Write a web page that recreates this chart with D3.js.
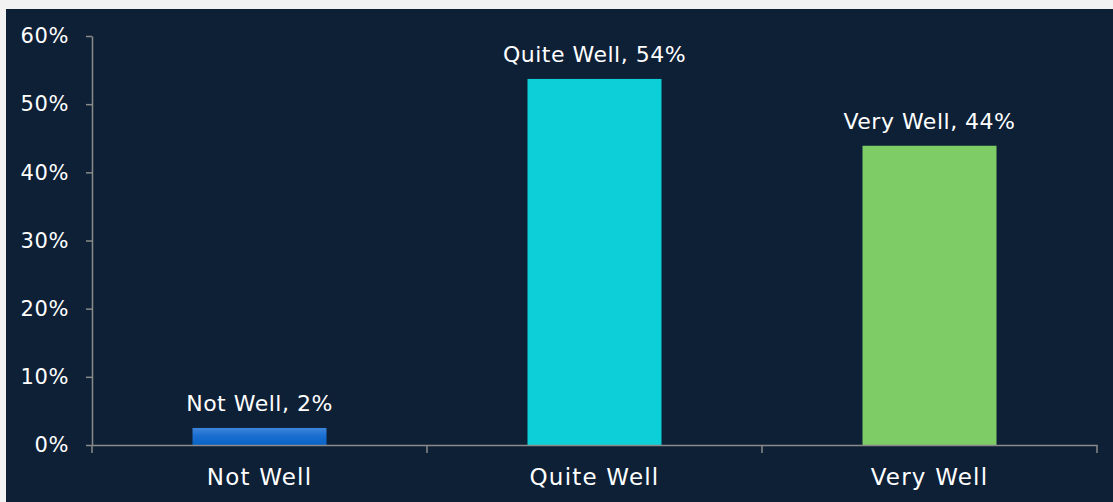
<!DOCTYPE html>
<html>
<head>
<meta charset="utf-8">
<script src="https://cdn.jsdelivr.net/npm/d3@7"></script>
<style>
  html, body { margin:0; padding:0; background:#f2f2f2; }
  svg { display:block; }
</style>
</head>
<body>
<div id="chart"></div>
<script>
const width = 1113
const height = 502
const margin = { top:36, bottom:57, left:92, right:16 }

// data
const categories = ["Not Well", "Quite Well", "Very Well"]
const values = [2.5, 53.7, 43.9]
const valueLabels = ["2%", "54%", "44%"]
const yTicks = [0, 10, 20, 30, 40, 50, 60]

const barColors = ["url(#notWellGrad)", "#0dcfd8", "#7dcc65"]
const fontFamily = "'DejaVu Sans', sans-serif"

let svg = d3.select("#chart").append("svg")
    .attr("width", width)
    .attr("height", height)

// panel
svg.append("rect")
    .attr("x", 0).attr("y", 0)
    .attr("width", width).attr("height", height)
    .attr("fill", "#f2f2f2")
svg.append("rect")
    .attr("x", 6).attr("y", 9)
    .attr("width", width - 6).attr("height", height - 9)
    .attr("fill", "#0e2036")

let defs = svg.append("defs")
let grad = defs.append("linearGradient")
    .attr("id", "notWellGrad")
    .attr("x1", 0).attr("y1", 0).attr("x2", 0).attr("y2", 1)
grad.append("stop").attr("offset", "0%").attr("stop-color", "#3f86dc")
grad.append("stop").attr("offset", "45%").attr("stop-color", "#1a6fd0")
grad.append("stop").attr("offset", "100%").attr("stop-color", "#0863c7")

let y = d3.scaleLinear()
    .domain([0, 60])
    .range([height - margin.bottom, margin.top])

let x = d3.scaleBand()
    .domain(categories)
    .range([margin.left, width - margin.right])
    .padding(0)

let y0 = y(0)

// bars
svg.append("g").attr("class", "bars")
    .selectAll("rect")
    .data(categories)
    .join("rect")
    .attr("x", d => x(d) + x.bandwidth() * 0.3)
    .attr("width", x.bandwidth() * 0.4)
    .attr("y", (d, i) => y(values[i]))
    .attr("height", (d, i) => y0 - y(values[i]))
    .attr("fill", (d, i) => barColors[i])

// y axis
let yAxisG = svg.append("g")
    .attr("transform", `translate(${margin.left},0)`)
    .call(d3.axisLeft(y).tickValues(yTicks).tickFormat(d => d + "%")
        .tickSize(6).tickSizeOuter(0).tickPadding(17))
yAxisG.attr("font-size", 21).attr("letter-spacing", 0.6)

// x axis
let xAxisG = svg.append("g")
    .attr("transform", `translate(0,${y0})`)
    .call(d3.axisBottom(x).tickSize(0).tickSizeOuter(0).tickPadding(24))
xAxisG.attr("font-size", 23).attr("letter-spacing", 1.2)

// boundary ticks between categories
let bounds = categories.map(d => x(d)).concat([x(categories[categories.length - 1]) + x.bandwidth()])
xAxisG.selectAll(".bound")
    .data(bounds)
    .join("line")
    .attr("class", "bound")
    .attr("x1", d => d).attr("x2", d => d)
    .attr("y1", 0).attr("y2", 8)

for (let g of [yAxisG, xAxisG]) {
    g.attr("font-family", fontFamily)
    g.selectAll("path, line").attr("stroke", "#8a8a8a").attr("stroke-width", 1.5)
    g.selectAll("text").attr("fill", "#ffffff")
}

// value labels
svg.append("g").attr("class", "labels")
    .selectAll("text")
    .data(categories)
    .join("text")
    .attr("x", d => x(d) + x.bandwidth() / 2)
    .attr("y", (d, i) => y(values[i]) - 17)
    .attr("text-anchor", "middle")
    .attr("font-family", fontFamily)
    .attr("font-size", 22)
    .attr("letter-spacing", 0.5)
    .attr("fill", "#ffffff")
    .text((d, i) => d + ", " + valueLabels[i])
</script>
</body>
</html>
